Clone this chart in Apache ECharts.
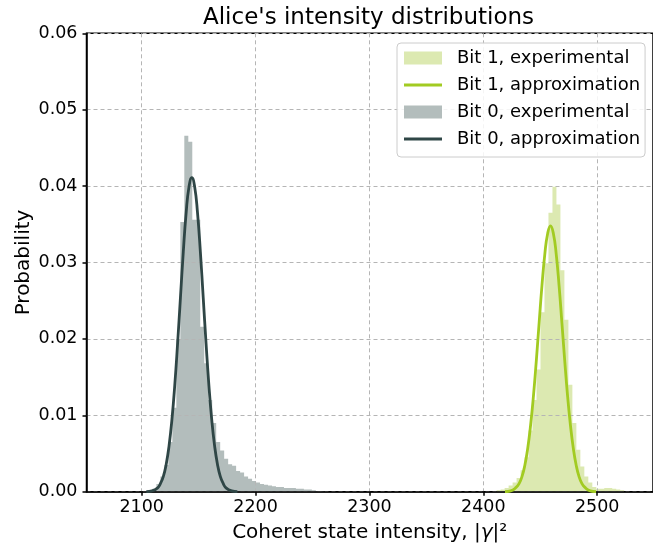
<!DOCTYPE html>
<html>
<head>
<meta charset="utf-8">
<script src="https://cdn.jsdelivr.net/npm/echarts@6/dist/echarts.min.js"></script>
<style>
  html, body { margin: 0; padding: 0; background: #ffffff; }
  #chart { width: 653px; height: 549px; }
</style>
</head>
<body>
<div id="chart"></div>
<script>
// Histogram bin width (intensity units) and left edges / probabilities per bin
const binWidth = 3.5;

const bit1BinStarts = [2411.7, 2415.2, 2418.7, 2422.2, 2425.7, 2429.2, 2432.7, 2436.2, 2439.7, 2443.2,
  2446.7, 2450.2, 2453.7, 2457.2, 2460.7, 2464.2, 2467.7, 2471.2, 2474.7, 2478.2,
  2481.7, 2485.2, 2488.7, 2492.2, 2495.7, 2499.2, 2502.7, 2506.2, 2509.7, 2513.2,
  2516.7, 2520.2];
const bit1Probs = [0.0002, 0.0003, 0.0005, 0.0008, 0.0012, 0.0018, 0.0028, 0.0045, 0.0080, 0.0120,
  0.0160, 0.0235, 0.0299, 0.0365, 0.0399, 0.0376, 0.0290, 0.0225, 0.0140, 0.0090,
  0.0055, 0.0033, 0.0020, 0.0012, 0.0006, 0.0004, 0.0004, 0.0005, 0.0005, 0.0004,
  0.0003, 0.0002];

const bit0BinStarts = [2105.9, 2109.4, 2112.9, 2116.4, 2119.9, 2123.4, 2126.9, 2130.4, 2133.9, 2137.4,
  2140.9, 2144.4, 2147.9, 2151.4, 2154.9, 2158.4, 2161.9, 2165.4, 2168.9, 2172.4,
  2175.9, 2179.4, 2182.9, 2186.4, 2189.9, 2193.4, 2196.9, 2200.4, 2203.9, 2207.4,
  2210.9, 2214.4, 2217.9, 2221.4, 2224.9, 2228.4, 2231.9, 2235.4, 2238.9, 2242.4,
  2245.9, 2249.4, 2252.9, 2256.4];
const bit0Probs = [0.0001, 0.0004, 0.0010, 0.0020, 0.0035, 0.0065, 0.0110, 0.0200, 0.0353, 0.0466,
  0.0458, 0.0356, 0.0356, 0.0216, 0.0168, 0.0120, 0.0090, 0.0065, 0.0054, 0.0043,
  0.0036, 0.0034, 0.0027, 0.0025, 0.0020, 0.0017, 0.0014, 0.0012, 0.0010, 0.0009,
  0.0008, 0.0007, 0.0006, 0.0006, 0.0005, 0.0005, 0.0005, 0.0004, 0.0004, 0.0003,
  0.0003, 0.0002, 0.0001, 0.0001];

// Fitted approximation curves (sampled points)
const bit1FitX = [2419, 2424, 2429, 2431.5, 2434, 2436.5, 2439, 2441.5, 2444, 2446.5,
  2449, 2451.5, 2454, 2456.5, 2459, 2461.5, 2464, 2466.5, 2469, 2471.5,
  2474, 2476.5, 2479, 2481.5, 2484, 2486.5, 2489, 2494, 2499];
const bit1FitY = [0.0000, 0.0001, 0.0006, 0.0011, 0.0020, 0.0035, 0.0057, 0.0087, 0.0125, 0.0171,
  0.0221, 0.0270, 0.0311, 0.0338, 0.0348, 0.0338, 0.0311, 0.0270, 0.0221, 0.0171,
  0.0125, 0.0087, 0.0057, 0.0035, 0.0020, 0.0011, 0.0006, 0.0001, 0.0000];

const bit0FitX = [2104, 2109, 2114, 2116.5, 2119, 2121.5, 2124, 2126.5, 2129, 2131.5,
  2134, 2136.5, 2139, 2141.5, 2144, 2146.5, 2149, 2151.5, 2154, 2156.5,
  2159, 2161.5, 2164, 2166.5, 2169, 2171.5, 2174, 2179, 2184];
const bit0FitY = [0.0000, 0.0001, 0.0005, 0.0011, 0.0020, 0.0036, 0.0060, 0.0094, 0.0139, 0.0194,
  0.0254, 0.0314, 0.0365, 0.0399, 0.0411, 0.0399, 0.0365, 0.0314, 0.0254, 0.0194,
  0.0139, 0.0094, 0.0060, 0.0036, 0.0020, 0.0011, 0.0005, 0.0001, 0.0000];

// Axis ticks
const xTickValues = [2100, 2200, 2300, 2400, 2500];

const FONT = 'DejaVu Sans';
const BIT1_FILL = '#dce9b1';
const BIT1_LINE = '#a2cb22';
const BIT0_FILL = '#b3bdbc';
const BIT0_LINE = '#2f4646';

// One row per bin: [left edge, right edge, probability]
function histogramBins(starts, probs) {
  return starts.map((s, i) => [s, s + binWidth, probs[i]]);
}
function curvePoints(xs, ys) {
  return xs.map((x, i) => [x, ys[i]]);
}

// Whole histogram as one stepped polygon (no seams between neighbouring bins)
function histogramRenderer(bins) {
  return function (params, api) {
    if (params.dataIndex !== 0) return null;
    const pts = [api.coord([bins[0][0], 0])];
    bins.forEach(b => {
      pts.push(api.coord([b[0], b[2]]));
      pts.push(api.coord([b[1], b[2]]));
    });
    pts.push(api.coord([bins[bins.length - 1][1], 0]));
    return {
      type: 'polygon',
      shape: { points: pts },
      style: { fill: api.visual('color'), stroke: null, lineWidth: 0 }
    };
  };
}

const bit1Bins = histogramBins(bit1BinStarts, bit1Probs);
const bit0Bins = histogramBins(bit0BinStarts, bit0Probs);

const chart = echarts.init(document.getElementById('chart'), null, { renderer: 'canvas' });

const lineIcon = 'path://M0,0H38V3H0Z';

chart.setOption({
  animation: false,
  backgroundColor: '#ffffff',
  textStyle: { fontFamily: FONT },
  title: {
    text: "Alice's intensity distributions",
    left: 203,
    top: 7,
    padding: 0,
    textStyle: { fontFamily: FONT, fontSize: 23, fontWeight: 'normal', color: '#000000' }
  },
  grid: {
    left: 86.5,
    top: 33.3,
    width: 576,
    height: 458.4,
    show: true,
    borderColor: '#000000',
    borderWidth: 1.5,
    backgroundColor: 'transparent'
  },
  legend: {
    orient: 'vertical',
    left: 397,
    top: 43,
    padding: [6, 5, 9, 7],
    itemWidth: 38,
    itemHeight: 13,
    itemGap: 9,
    backgroundColor: 'rgba(255,255,255,0.85)',
    borderColor: '#cccccc',
    borderWidth: 1,
    borderRadius: 4,
    textStyle: { fontFamily: FONT, fontSize: 18, lineHeight: 18, color: '#000000', padding: [0, 0, 0, 10] },
    data: [
      { name: 'Bit 1, experimental', icon: 'rect' },
      { name: 'Bit 1, approximation', icon: lineIcon, itemStyle: { borderWidth: 0 } },
      { name: 'Bit 0, experimental', icon: 'rect' },
      { name: 'Bit 0, approximation', icon: lineIcon, itemStyle: { borderWidth: 0 } }
    ]
  },
  xAxis: {
    type: 'value',
    min: 2051.5,
    max: 2549,
    z: 2,
    name: 'Coheret state intensity, |{g|γ}|²',
    nameLocation: 'middle',
    nameGap: 31,
    nameMoveOverlap: false,
    nameTextStyle: {
      fontFamily: FONT, fontSize: 20, lineHeight: 20, color: '#000000',
      rich: { g: { fontFamily: FONT, fontSize: 20, lineHeight: 20, fontStyle: 'italic', color: '#000000' } }
    },
    axisLine: { show: true, onZero: false, lineStyle: { color: '#000000', width: 1.5 } },
    axisTick: { show: true, length: 4, inside: false, customValues: xTickValues, lineStyle: { color: '#000000', width: 1.5 } },
    axisLabel: {
      customValues: xTickValues, fontFamily: FONT, fontSize: 17.5, color: '#000000', margin: 7,
      formatter: v => String(Math.round(v))
    },
    splitLine: { show: true, lineStyle: { color: '#b5b5b5', width: 1, type: [4, 3] } }
  },
  yAxis: {
    type: 'value',
    min: 0,
    max: 0.06,
    interval: 0.01,
    z: 2,
    name: 'Probability',
    nameLocation: 'middle',
    nameGap: 53,
    nameMoveOverlap: false,
    nameTextStyle: { fontFamily: FONT, fontSize: 20, lineHeight: 20, color: '#000000' },
    axisLine: { show: true, lineStyle: { color: '#000000', width: 1.5 } },
    axisTick: { show: true, length: 4, inside: false, lineStyle: { color: '#000000', width: 1.5 } },
    axisLabel: {
      fontFamily: FONT, fontSize: 17.5, color: '#000000', margin: 9,
      formatter: v => v.toFixed(2)
    },
    splitLine: { show: true, lineStyle: { color: '#b5b5b5', width: 1, type: [4, 3] } }
  },
  series: [
    {
      name: 'Bit 1, experimental',
      type: 'custom',
      z: 1,
      silent: true,
      renderItem: histogramRenderer(bit1Bins),
      encode: { x: [0, 1], y: 2 },
      data: bit1Bins,
      itemStyle: { color: BIT1_FILL }
    },
    {
      name: 'Bit 1, approximation',
      type: 'line',
      z: 3,
      smooth: true,
      symbol: 'none',
      data: curvePoints(bit1FitX, bit1FitY),
      itemStyle: { color: BIT1_LINE },
      lineStyle: { color: BIT1_LINE, width: 2.8 }
    },
    {
      name: 'Bit 0, experimental',
      type: 'custom',
      z: 1,
      silent: true,
      renderItem: histogramRenderer(bit0Bins),
      encode: { x: [0, 1], y: 2 },
      data: bit0Bins,
      itemStyle: { color: BIT0_FILL }
    },
    {
      name: 'Bit 0, approximation',
      type: 'line',
      z: 3,
      smooth: true,
      symbol: 'none',
      data: curvePoints(bit0FitX, bit0FitY),
      itemStyle: { color: BIT0_LINE },
      lineStyle: { color: BIT0_LINE, width: 2.8 }
    }
  ]
});
</script>
</body>
</html>
